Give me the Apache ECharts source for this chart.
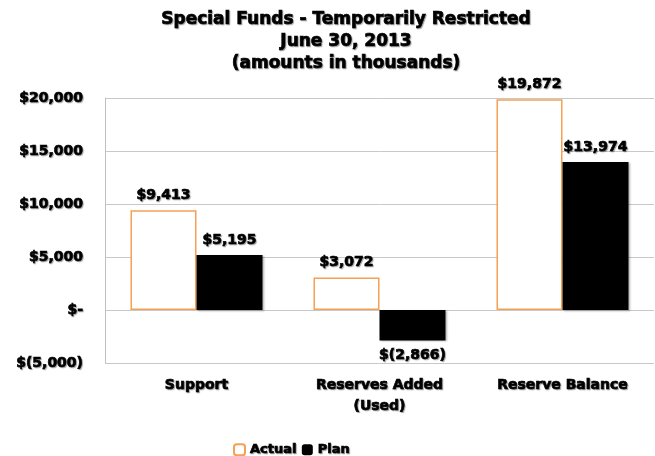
<!DOCTYPE html>
<html>
<head>
<meta charset="utf-8">
<script src="https://cdn.jsdelivr.net/npm/echarts@6/dist/echarts.min.js"></script>
<style>
html,body{margin:0;padding:0;background:#fff;}
#main{width:655px;height:456px;}
</style>
</head>
<body>
<div id="main"></div>
<script>
var categories = ['Support', 'Reserves Added\n(Used)', 'Reserve Balance'];
var actualValues = [9413, 3072, 19872];
var planValues = [5195, -2866, 13974];
var tickValues = [-5000, 0, 5000, 10000, 15000, 20000];

var fontFam = '"DejaVu Sans", Arial, sans-serif';

function money(v) {
	if (v === 0) { return '$-'; }
	var s = Math.abs(v).toString().replace(/\B(?=(\d{3})+(?!\d))/g, ',');
	return v < 0 ? '$(' + s + ')' : '$' + s;
}

var txt = {
	fontFamily: fontFam,
	fontWeight: 'bold',
	fontSize: 14,
	color: '#000',
	textBorderColor: '#000',
	textBorderWidth: 0.7,
	textShadowColor: 'rgba(0,0,0,0.3)',
	textShadowBlur: 1,
	textShadowOffsetX: 1,
	textShadowOffsetY: 1
};

// negative bars get their label underneath
var planData = planValues.map(function (v) {
	return v < 0 ? { value: v, label: { position: 'bottom' } } : v;
});

var chart = echarts.init(document.getElementById('main'));
var option = {
	animation: false,
	title: {
		text: 'Special Funds - Temporarily Restricted\nJune 30, 2013\n(amounts in thousands)',
		left: 341,
		textAlign: 'center',
		top: 4,
		textStyle: Object.assign({}, txt, { fontSize: 17, lineHeight: 22 })
	},
	legend: {
		left: 228,
		top: 438,
		itemWidth: 11,
		itemHeight: 11,
		itemGap: 5,
		textStyle: Object.assign({}, txt, { fontSize: 13 }),
		data: [
			{ name: 'Actual', itemStyle: { color: '#fff', borderColor: '#f5a053', borderWidth: 2 } },
			{ name: 'Plan', itemStyle: { color: '#000' } }
		]
	},
	grid: { left: 105, right: 1, top: 98, bottom: 93 },
	xAxis: {
		type: 'category',
		data: categories,
		axisLine: { show: false },
		axisTick: { show: false },
		axisLabel: Object.assign({ margin: 12, lineHeight: 21 }, txt)
	},
	yAxis: {
		type: 'value',
		min: tickValues[0],
		max: tickValues[tickValues.length - 1],
		interval: 5000,
		axisLine: { show: true, lineStyle: { color: '#bfbfbf' } },
		axisTick: { show: false },
		splitLine: { show: true, lineStyle: { color: '#c8c8c8' } },
		axisLabel: Object.assign({ margin: 22, formatter: money }, txt)
	},
	series: [
		{
			name: 'Actual',
			type: 'bar',
			data: actualValues,
			barWidth: 66,
			barGap: '0%',
			itemStyle: { color: '#fff', borderColor: '#f5a053', borderWidth: 1.5 },
			label: Object.assign({ show: true, position: 'top', distance: 8, formatter: function (p) { return money(p.value); } }, txt)
		},
		{
			name: 'Plan',
			type: 'bar',
			data: planData,
			barWidth: 66,
			itemStyle: { color: '#000', shadowColor: 'rgba(0,0,0,0.3)', shadowBlur: 2, shadowOffsetX: 1, shadowOffsetY: 1 },
			label: Object.assign({ show: true, position: 'top', distance: 8, formatter: function (p) { return money(p.value); } }, txt)
		}
	]
};
chart.setOption(option);
</script>
</body>
</html>
